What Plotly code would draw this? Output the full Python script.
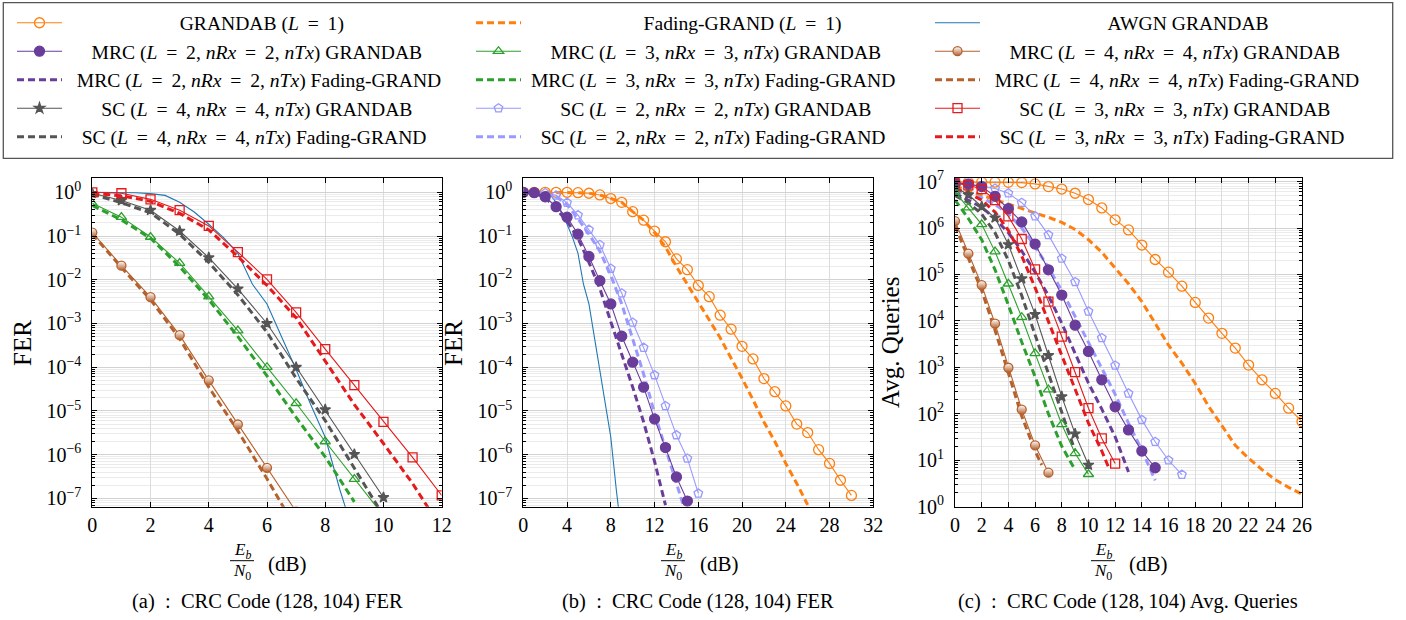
import plotly.graph_objects as go

W, H = 1406, 620

# ---------------- ticks ----------------
fer_tickvals = [1e-7, 1e-6, 1e-5, 1e-4, 1e-3, 1e-2, 1e-1, 1]
fer_ticktext = ["10<sup>−7</sup>", "10<sup>−6</sup>", "10<sup>−5</sup>", "10<sup>−4</sup>",
                "10<sup>−3</sup>", "10<sup>−2</sup>", "10<sup>−1</sup>", "10<sup>0</sup>"]
q_tickvals = [1, 10, 100, 1e3, 1e4, 1e5, 1e6, 1e7]
q_ticktext = ["10<sup>0</sup>", "10<sup>1</sup>", "10<sup>2</sup>", "10<sup>3</sup>",
              "10<sup>4</sup>", "10<sup>5</sup>", "10<sup>6</sup>", "10<sup>7</sup>"]
xa_ticks = [0, 2, 4, 6, 8, 10, 12]
xb_ticks = [0, 4, 8, 12, 16, 20, 24, 28, 32]
xc_ticks = [0, 2, 4, 6, 8, 10, 12, 14, 16, 18, 20, 22, 24, 26]

# ---------------- data: AWGN (panels a, b) ----------------
awgn_snr = [0, 0.5, 1, 1.5, 2, 2.5, 3, 3.5, 4, 4.5, 5, 5.5, 6, 6.5, 7, 7.5, 8, 8.5, 9]
awgn_fer = [1.0, 1.0, 0.99, 0.98, 0.93, 0.85, 0.59, 0.355, 0.186, 0.093, 0.040, 0.0079,
            0.0028, 5.0e-4, 8.9e-5, 1.4e-5, 2.5e-6, 1.6e-7, 1.4e-8]

# ---------------- data: panel (a) FER ----------------
a_mrc3_g_snr = [0, 1, 2, 3, 4, 5, 6, 7, 8, 9, 10]
a_mrc3_g_fer = [0.56, 0.27, 0.095, 0.024, 0.0041, 6.9e-4, 1.0e-4, 1.5e-5, 2.0e-6, 2.75e-7, 4.0e-8]
a_mrc3_f_snr = [0, 1, 2, 3, 4, 5, 6, 7, 8, 9]
a_mrc3_f_fer = [0.50, 0.234, 0.089, 0.020, 0.0035, 5.0e-4, 6.3e-5, 7.1e-6, 8.9e-7, 8.3e-8]
a_mrc4_g_snr = [0, 1, 2, 3, 4, 5, 6, 7]
a_mrc4_g_fer = [0.12, 0.021, 0.0040, 5.4e-4, 5.0e-5, 4.9e-6, 5.0e-7, 5.0e-8]
a_mrc4_f_snr = [0, 1, 2, 3, 4, 5, 6, 7]
a_mrc4_f_fer = [0.112, 0.019, 0.0035, 4.5e-4, 3.5e-5, 3.5e-6, 2.8e-7, 2.0e-8]
a_sc4_g_snr = [0, 1, 2, 3, 4, 5, 6, 7, 8, 9, 10]
a_sc4_g_fer = [0.95, 0.65, 0.39, 0.13, 0.032, 0.0062, 1.0e-3, 1.0e-4, 1.07e-5, 1.02e-6, 1.05e-7]
a_sc4_f_snr = [0, 1, 2, 3, 4, 5, 6, 7, 8, 9, 10]
a_sc4_f_fer = [0.91, 0.575, 0.34, 0.11, 0.025, 0.0045, 6.3e-4, 5.6e-5, 6.0e-6, 5.0e-7, 4.0e-8]
a_sc3_g_snr = [0, 1, 2, 3, 4, 5, 6, 7, 8, 9, 10, 11, 12]
a_sc3_g_fer = [1.0, 0.95, 0.69, 0.39, 0.17, 0.043, 0.0102, 1.8e-3, 2.6e-4, 3.9e-5, 5.6e-6, 8.7e-7, 1.17e-7]
a_sc3_f_snr = [0, 1, 2, 3, 4, 5, 6, 7, 8, 9, 10, 11, 12]
a_sc3_f_fer = [0.95, 0.83, 0.62, 0.33, 0.138, 0.034, 0.0074, 1.35e-3, 1.38e-4, 1.4e-5, 1.8e-6, 2.2e-7, 2.0e-8]

# ---------------- data: panel (b) FER ----------------
b_l1_g_snr = list(range(0, 31))
b_l1_g_fer = [1.0, 1.0, 1.0, 1.0, 1.0, 0.98, 0.95, 0.87, 0.72, 0.59, 0.36, 0.23, 0.13, 0.074,
              0.030, 0.017, 0.0074, 0.0041, 0.00155, 7.4e-4, 3.0e-4, 1.55e-4, 5.5e-5, 2.75e-5,
              1.3e-5, 5.0e-6, 3.2e-6, 1.3e-6, 6.3e-7, 2.6e-7, 1.17e-7]
b_l1_f_snr = list(range(0, 27))
b_l1_f_fer = [1.0, 1.0, 1.0, 1.0, 1.0, 0.98, 0.95, 0.87, 0.72, 0.59, 0.36, 0.23, 0.12, 0.056,
              0.020, 0.0079, 0.0032, 1.26e-3, 4.7e-4, 1.6e-4, 5.6e-5, 1.8e-5, 5.6e-6, 2.0e-6,
              6.3e-7, 2.2e-7, 7.1e-8]
b_mrc2_g_snr = list(range(0, 16))
b_mrc2_g_fer = [1.0, 0.98, 0.79, 0.47, 0.27, 0.11, 0.034, 0.0095, 0.0028, 5.1e-4, 1.3e-4,
                3.5e-5, 6.5e-6, 1.45e-6, 3.1e-7, 8.7e-8]
b_mrc2_f_snr = list(range(0, 14))
b_mrc2_f_fer = [1.0, 0.97, 0.75, 0.42, 0.22, 0.089, 0.025, 0.0063, 1.1e-3, 2.0e-4, 3.5e-5,
                5.6e-6, 7.0e-7, 7.0e-8]
b_sc2_g_snr = list(range(0, 17))
b_sc2_g_fer = [1.0, 0.98, 0.96, 0.85, 0.58, 0.30, 0.14, 0.063, 0.018, 0.0049, 1.05e-3, 2.8e-4,
               6.6e-5, 1.3e-5, 2.8e-6, 8.2e-7, 1.3e-7]
b_sc2_f_snr = list(range(0, 16))
b_sc2_f_fer = [1.0, 0.98, 0.93, 0.80, 0.52, 0.25, 0.11, 0.045, 0.0126, 2.8e-3, 4.6e-4, 7.0e-5,
               8.9e-6, 1.4e-6, 2.2e-7, 3.5e-8]

# ---------------- data: panel (c) average queries ----------------
c_l1_g_snr = list(range(0, 27))
c_l1_g_q = [9.7e6, 9.7e6, 9.7e6, 9.7e6, 9.6e6, 9.5e6, 8.9e6, 7.8e6, 6.9e6, 5.6e6, 4.1e6, 2.7e6,
            1.5e6, 9.1e5, 4.3e5, 2.1e5, 1.12e5, 5.6e4, 2.5e4, 1.15e4, 5.4e3, 2.6e3, 1.12e3,
            540, 275, 132, 68]
c_l1_f_snr = list(range(0, 27))
c_l1_f_q = [7.9e6, 6.3e6, 5.0e6, 4.0e6, 3.2e6, 2.6e6, 2.1e6, 1.7e6, 1.32e6, 9.3e5, 5.6e5, 3.0e5,
            1.41e5, 6.3e4, 2.6e4, 8.9e3, 3.0e3, 1.23e3, 450, 145, 54, 21, 11, 6.3, 3.8, 2.6, 1.86]
c_mrc2_g_snr = list(range(0, 16))
c_mrc2_g_q = [9.3e6, 8.9e6, 7.8e6, 4.8e6, 2.6e6, 1.35e6, 4.5e5, 1.26e5, 3.6e4, 8.1e3, 2.2e3,
              540, 141, 45, 15.8, 6.9]
c_mrc2_f_snr = list(range(0, 14))
c_mrc2_f_q = [5.6e6, 4.0e6, 2.8e6, 1.6e6, 7.9e5, 3.2e5, 1.12e5, 3.5e4, 8.9e3, 2.0e3, 457, 126, 32, 5.6]
c_sc2_g_snr = list(range(0, 18))
c_sc2_g_q = [8.9e6, 8.5e6, 7.9e6, 7.1e6, 5.6e6, 3.5e6, 1.8e6, 7.1e5, 2.2e5, 6.9e4, 1.6e4, 4.3e3,
             1.1e3, 275, 74, 25, 10, 4.9]
c_sc2_f_snr = list(range(0, 16))
c_sc2_f_q = [6.3e6, 5.6e6, 4.5e6, 3.2e6, 2.0e6, 1.0e6, 4.0e5, 1.41e5, 4.5e4, 1.26e4, 3.5e3,
             1.0e3, 263, 63, 16.6, 3.7]
c_mrc3_g_snr = list(range(0, 11))
c_mrc3_g_q = [6.0e6, 2.75e6, 1.2e6, 3.1e5, 6.3e4, 1.2e4, 2.0e3, 331, 59, 14.1, 5.0]
c_mrc3_f_snr = list(range(0, 10))
c_mrc3_f_q = [4.0e6, 1.6e6, 5.6e5, 1.26e5, 2.2e4, 3.5e3, 630, 100, 20, 6.2]
c_mrc4_g_snr = list(range(0, 8))
c_mrc4_g_q = [1.41e6, 2.8e5, 5.9e4, 8.7e3, 980, 123, 21, 5.4]
c_mrc4_f_snr = [0, 1, 2, 3, 4, 5, 6, 6.5]
c_mrc4_f_q = [1.12e6, 2.2e5, 4.5e4, 6.3e3, 710, 89, 15.8, 7.9]
c_sc4_g_snr = list(range(0, 11))
c_sc4_g_q = [7.6e6, 5.2e6, 2.9e6, 1.66e6, 4.4e5, 8.1e4, 1.38e4, 1.8e3, 234, 37, 7.9]
c_sc4_f_snr = list(range(0, 10))
c_sc4_f_q = [5.0e6, 3.5e6, 2.0e6, 7.9e5, 2.0e5, 3.5e4, 5.0e3, 710, 100, 15.8]
c_sc3_g_snr = list(range(0, 13))
c_sc3_g_q = [9.3e6, 8.3e6, 6.9e6, 4.0e6, 1.78e6, 5.8e5, 1.29e5, 2.6e4, 4.6e3, 790, 132, 29.5, 8.5]
c_sc3_f_snr = [0, 1, 2, 3, 4, 5, 6, 7, 8, 9, 10, 11, 11.5]
c_sc3_f_q = [7.1e6, 5.6e6, 4.0e6, 2.2e6, 8.9e5, 2.5e5, 5.2e4, 9.5e3, 1.8e3, 316, 63, 15.8, 7.1]

# ---------------- series labels ----------------
EQ = "\u2009=\u2009"
labels = {
    "l1_g": "GRANDAB (<i>L</i> " + EQ + " 1)",
    "mrc2_g": "MRC (<i>L</i> " + EQ + " 2, <i>nRx</i> " + EQ + " 2, <i>nTx</i>) GRANDAB",
    "mrc2_f": "MRC (<i>L</i> " + EQ + " 2, <i>nRx</i> " + EQ + " 2, <i>nTx</i>) Fading-GRAND",
    "sc4_g": "SC (<i>L</i> " + EQ + " 4, <i>nRx</i> " + EQ + " 4, <i>nTx</i>) GRANDAB",
    "sc4_f": "SC (<i>L</i> " + EQ + " 4, <i>nRx</i> " + EQ + " 4, <i>nTx</i>) Fading-GRAND",
    "l1_f": "Fading-GRAND (<i>L</i> " + EQ + " 1)",
    "mrc3_g": "MRC (<i>L</i> " + EQ + " 3, <i>nRx</i> " + EQ + " 3, <i>nTx</i>) GRANDAB",
    "mrc3_f": "MRC (<i>L</i> " + EQ + " 3, <i>nRx</i> " + EQ + " 3, <i>nTx</i>) Fading-GRAND",
    "sc2_g": "SC (<i>L</i> " + EQ + " 2, <i>nRx</i> " + EQ + " 2, <i>nTx</i>) GRANDAB",
    "sc2_f": "SC (<i>L</i> " + EQ + " 2, <i>nRx</i> " + EQ + " 2, <i>nTx</i>) Fading-GRAND",
    "awgn": "AWGN GRANDAB",
    "mrc4_g": "MRC (<i>L</i> " + EQ + " 4, <i>nRx</i> " + EQ + " 4, <i>nTx</i>) GRANDAB",
    "mrc4_f": "MRC (<i>L</i> " + EQ + " 4, <i>nRx</i> " + EQ + " 4, <i>nTx</i>) Fading-GRAND",
    "sc3_g": "SC (<i>L</i> " + EQ + " 3, <i>nRx</i> " + EQ + " 3, <i>nTx</i>) GRANDAB",
    "sc3_f": "SC (<i>L</i> " + EQ + " 3, <i>nRx</i> " + EQ + " 3, <i>nTx</i>) Fading-GRAND",
}
legend_cols = [["l1_g", "mrc2_g", "mrc2_f", "sc4_g", "sc4_f"],
               ["l1_f", "mrc3_g", "mrc3_f", "sc2_g", "sc2_f"],
               ["awgn", "mrc4_g", "mrc4_f", "sc3_g", "sc3_f"]]
label_pad = {"l1_g": 23, "mrc2_g": 5, "mrc2_f": 2, "sc4_g": 7, "sc4_f": 3,
             "l1_f": 24, "mrc3_g": 5, "mrc3_f": 1, "sc2_g": 7, "sc2_f": 3,
             "awgn": 25, "mrc4_g": 5, "mrc4_f": 2, "sc3_g": 7, "sc3_f": 3}

ORANGE, BLUE, PURPLE = "#ff7f0e", "#1f77b4", "#6a3d9a"
GREEN, BROWN, GRAY = "#2ca02c", "#b5612d", "#555555"
LAV, RED = "#9999ff", "#e41a1c"

styles = {
    "l1_g": dict(color=ORANGE, dash=None, symbol="circle-open", size=10),
    "l1_f": dict(color=ORANGE, dash="7px,4px"),
    "awgn": dict(color=BLUE, dash=None),
    "mrc2_g": dict(color=PURPLE, dash=None, symbol="circle", size=10),
    "mrc2_f": dict(color=PURPLE, dash="7px,4px"),
    "mrc3_g": dict(color=GREEN, dash=None, symbol="triangle-up-open", size=9),
    "mrc3_f": dict(color=GREEN, dash="7px,4px"),
    "mrc4_g": dict(color=BROWN, dash=None, symbol="circle", size=9, half=True),
    "mrc4_f": dict(color=BROWN, dash="7px,4px"),
    "sc4_g": dict(color=GRAY, dash=None, symbol="star", size=8),
    "sc4_f": dict(color=GRAY, dash="7px,4px"),
    "sc2_g": dict(color=LAV, dash=None, symbol="pentagon-open", size=9),
    "sc2_f": dict(color=LAV, dash="7px,4px"),
    "sc3_g": dict(color=RED, dash=None, symbol="square-open", size=9),
    "sc3_f": dict(color=RED, dash="7px,4px"),
}

panel_a = [("awgn", awgn_snr, awgn_fer),
           ("mrc3_f", a_mrc3_f_snr, a_mrc3_f_fer), ("mrc3_g", a_mrc3_g_snr, a_mrc3_g_fer),
           ("mrc4_f", a_mrc4_f_snr, a_mrc4_f_fer), ("mrc4_g", a_mrc4_g_snr, a_mrc4_g_fer),
           ("sc4_f", a_sc4_f_snr, a_sc4_f_fer), ("sc4_g", a_sc4_g_snr, a_sc4_g_fer),
           ("sc3_f", a_sc3_f_snr, a_sc3_f_fer), ("sc3_g", a_sc3_g_snr, a_sc3_g_fer)]
panel_b = [("awgn", awgn_snr, awgn_fer),
           ("l1_f", b_l1_f_snr, b_l1_f_fer), ("l1_g", b_l1_g_snr, b_l1_g_fer),
           ("sc2_f", b_sc2_f_snr, b_sc2_f_fer), ("sc2_g", b_sc2_g_snr, b_sc2_g_fer),
           ("mrc2_f", b_mrc2_f_snr, b_mrc2_f_fer), ("mrc2_g", b_mrc2_g_snr, b_mrc2_g_fer)]
panel_c = [("l1_f", c_l1_f_snr, c_l1_f_q), ("l1_g", c_l1_g_snr, c_l1_g_q),
           ("sc2_f", c_sc2_f_snr, c_sc2_f_q), ("sc2_g", c_sc2_g_snr, c_sc2_g_q),
           ("mrc2_f", c_mrc2_f_snr, c_mrc2_f_q), ("mrc2_g", c_mrc2_g_snr, c_mrc2_g_q),
           ("sc3_f", c_sc3_f_snr, c_sc3_f_q), ("sc3_g", c_sc3_g_snr, c_sc3_g_q),
           ("sc4_f", c_sc4_f_snr, c_sc4_f_q), ("sc4_g", c_sc4_g_snr, c_sc4_g_q),
           ("mrc3_f", c_mrc3_f_snr, c_mrc3_f_q), ("mrc3_g", c_mrc3_g_snr, c_mrc3_g_q),
           ("mrc4_f", c_mrc4_f_snr, c_mrc4_f_q), ("mrc4_g", c_mrc4_g_snr, c_mrc4_g_q)]

legend_of = {}
rank_of = {}
for ci, col in enumerate(legend_cols):
    for ri, k in enumerate(col):
        legend_of[k] = "legend" if ci == 0 else "legend%d" % (ci + 1)
        rank_of[k] = ri + 1

fig = go.Figure()
shown = set()


def add_series(key, x, y, xa, ya):
    st = styles[key]
    show = key not in shown
    shown.add(key)
    is_dash = st["dash"] is not None
    kw = dict(x=x, y=y, xaxis=xa, yaxis=ya, name="\u00a0" * label_pad[key] + labels[key],
              showlegend=show, legend=legend_of[key], legendrank=rank_of[key],
              line=dict(color=st["color"], width=3 if is_dash else 1.1,
                        dash=st["dash"] if is_dash else "solid"))
    if "symbol" in st:
        mk = dict(symbol=st["symbol"], size=st["size"], color=st["color"],
                  line=dict(color=st["color"], width=1.3))
        if st.get("half"):
            mk["color"] = "white"
            mk["gradient"] = dict(type="vertical", color=st["color"])
        kw["mode"] = "lines+markers"
        kw["marker"] = mk
    else:
        kw["mode"] = "lines"
    fig.add_trace(go.Scatter(**kw))


for k, x, y in panel_c:
    add_series(k, x, y, "x3", "y3")
for k, x, y in panel_a:
    add_series(k, x, y, "x", "y")
for k, x, y in panel_b:
    add_series(k, x, y, "x2", "y2")

FONT = "Times New Roman, Liberation Serif, Tinos, DejaVu Serif, serif"
minor_fer = [m * 10.0 ** e for e in range(-8, 1) for m in range(2, 10)]
minor_q = [m * 10.0 ** e for e in range(0, 8) for m in range(2, 10)]


def xax(domain, rng, ticks):
    return dict(domain=domain, range=rng, tickmode="array", tickvals=ticks,
                ticks="inside", ticklen=5, tickcolor="black", mirror="ticks",
                showline=True, linecolor="black", linewidth=1,
                showgrid=True, gridcolor="#dcdcdc", gridwidth=1, zeroline=False,
                tickfont=dict(family=FONT, size=20, color="black"), ticklabelstandoff=0,
                automargin=False)


def yax(domain, rng, tv, tt, minor, anchor):
    return dict(domain=domain, type="log", range=rng, tickmode="array", tickvals=tv, ticktext=tt,
                ticks="inside", ticklen=5, tickcolor="black", mirror="ticks",
                showline=True, linecolor="black", linewidth=1,
                showgrid=True, gridcolor="#d2d2d2", gridwidth=1, zeroline=False,
                minor=dict(tickmode="array", tickvals=minor, ticks="inside", ticklen=3,
                           tickcolor="black", showgrid=True, gridcolor="#ebebeb", gridwidth=1),
                tickfont=dict(family=FONT, size=20, color="black"), ticklabelstandoff=6,
                anchor=anchor, automargin=False)


ydom = [1 - 506.7 / H, 1 - 178.3 / H]
fig.update_layout(
    xaxis=dict(xax([92.3 / W, 441.7 / W], [0, 12], xa_ticks), anchor="y"),
    yaxis=yax(ydom, [-7.19, 0.32], fer_tickvals, fer_ticktext, minor_fer, "x"),
    xaxis2=dict(xax([523.3 / W, 873.3 / W], [0, 32], xb_ticks), anchor="y2"),
    yaxis2=yax(ydom, [-7.19, 0.32], fer_tickvals, fer_ticktext, minor_fer, "x2"),
    xaxis3=dict(xax([955.0 / W, 1302.0 / W], [0, 26], xc_ticks), anchor="y3"),
    yaxis3=yax(ydom, [0, 7.07], q_tickvals, q_ticktext, minor_q, "x3"),
)

leg_common = dict(orientation="v", xanchor="left", yanchor="top", y=1 - 3.5 / H,
                  bgcolor="rgba(0,0,0,0)", borderwidth=0, itemwidth=45,
                  font=dict(family=FONT, size=19.6, color="black"), tracegroupgap=0)
fig.update_layout(
    legend=dict(leg_common, x=12 / W),
    legend2=dict(leg_common, x=471 / W),
    legend3=dict(leg_common, x=930 / W),
)

shapes = [dict(type="rect", xref="paper", yref="paper", x0=3.3 / W, x1=1392.7 / W,
               y0=1 - 158.3 / H, y1=1 - 2.7 / H, line=dict(color="#555555", width=1.3))]
ann = []


def note(xp, yp, txt, size, angle=0):
    ann.append(dict(x=xp / W, y=1 - yp / H, xref="paper", yref="paper", text=txt,
                    xanchor="center", yanchor="middle", textangle=angle, showarrow=False,
                    font=dict(family=FONT, size=size, color="black")))


# y-axis titles
for xc, txt in [(22, "FER"), (453, "FER"), (890, "Avg. Queries")]:
    note(xc, 343, txt, 25, -90)

# x-axis titles (fraction Eb/N0 (dB)) and sub-captions
SEP = "\u00a0\u00a0:\u00a0\u00a0"
captions = ["(a)" + SEP + "CRC Code (128,\u2009104) FER",
            "(b)" + SEP + "CRC Code (128,\u2009104) FER",
            "(c)" + SEP + "CRC Code (128,\u2009104) Avg. Queries"]
frac_x = [242, 673, 1103]
db_x = [287, 719, 1148]
cap_x = [267, 698, 1128]
for i in range(3):
    note(frac_x[i], 551, "<i>E<sub>b</sub></i>", 17)
    note(frac_x[i], 572, "<i>N</i><sub>0</sub>", 17)
    shapes.append(dict(type="line", xref="paper", yref="paper",
                       x0=(frac_x[i] - 12) / W, x1=(frac_x[i] + 12) / W,
                       y0=1 - 560.7 / H, y1=1 - 560.7 / H, line=dict(color="black", width=1)))
    note(db_x[i], 564, "(dB)", 21)
    note(cap_x[i], 601.7, captions[i], 20.5)

fig.update_layout(width=W, height=H, margin=dict(l=0, r=0, t=0, b=0, autoexpand=False),
                  paper_bgcolor="white", plot_bgcolor="white",
                  font=dict(family=FONT, color="black"),
                  shapes=shapes, annotations=ann)

fig.write_html(
    "out.html",
    config={"displayModeBar": False},
    post_script="document.body.style.margin='0px';document.body.style.padding='0px';"
                "document.documentElement.style.overflow='hidden';"
                "document.body.style.overflow='hidden';",
)
